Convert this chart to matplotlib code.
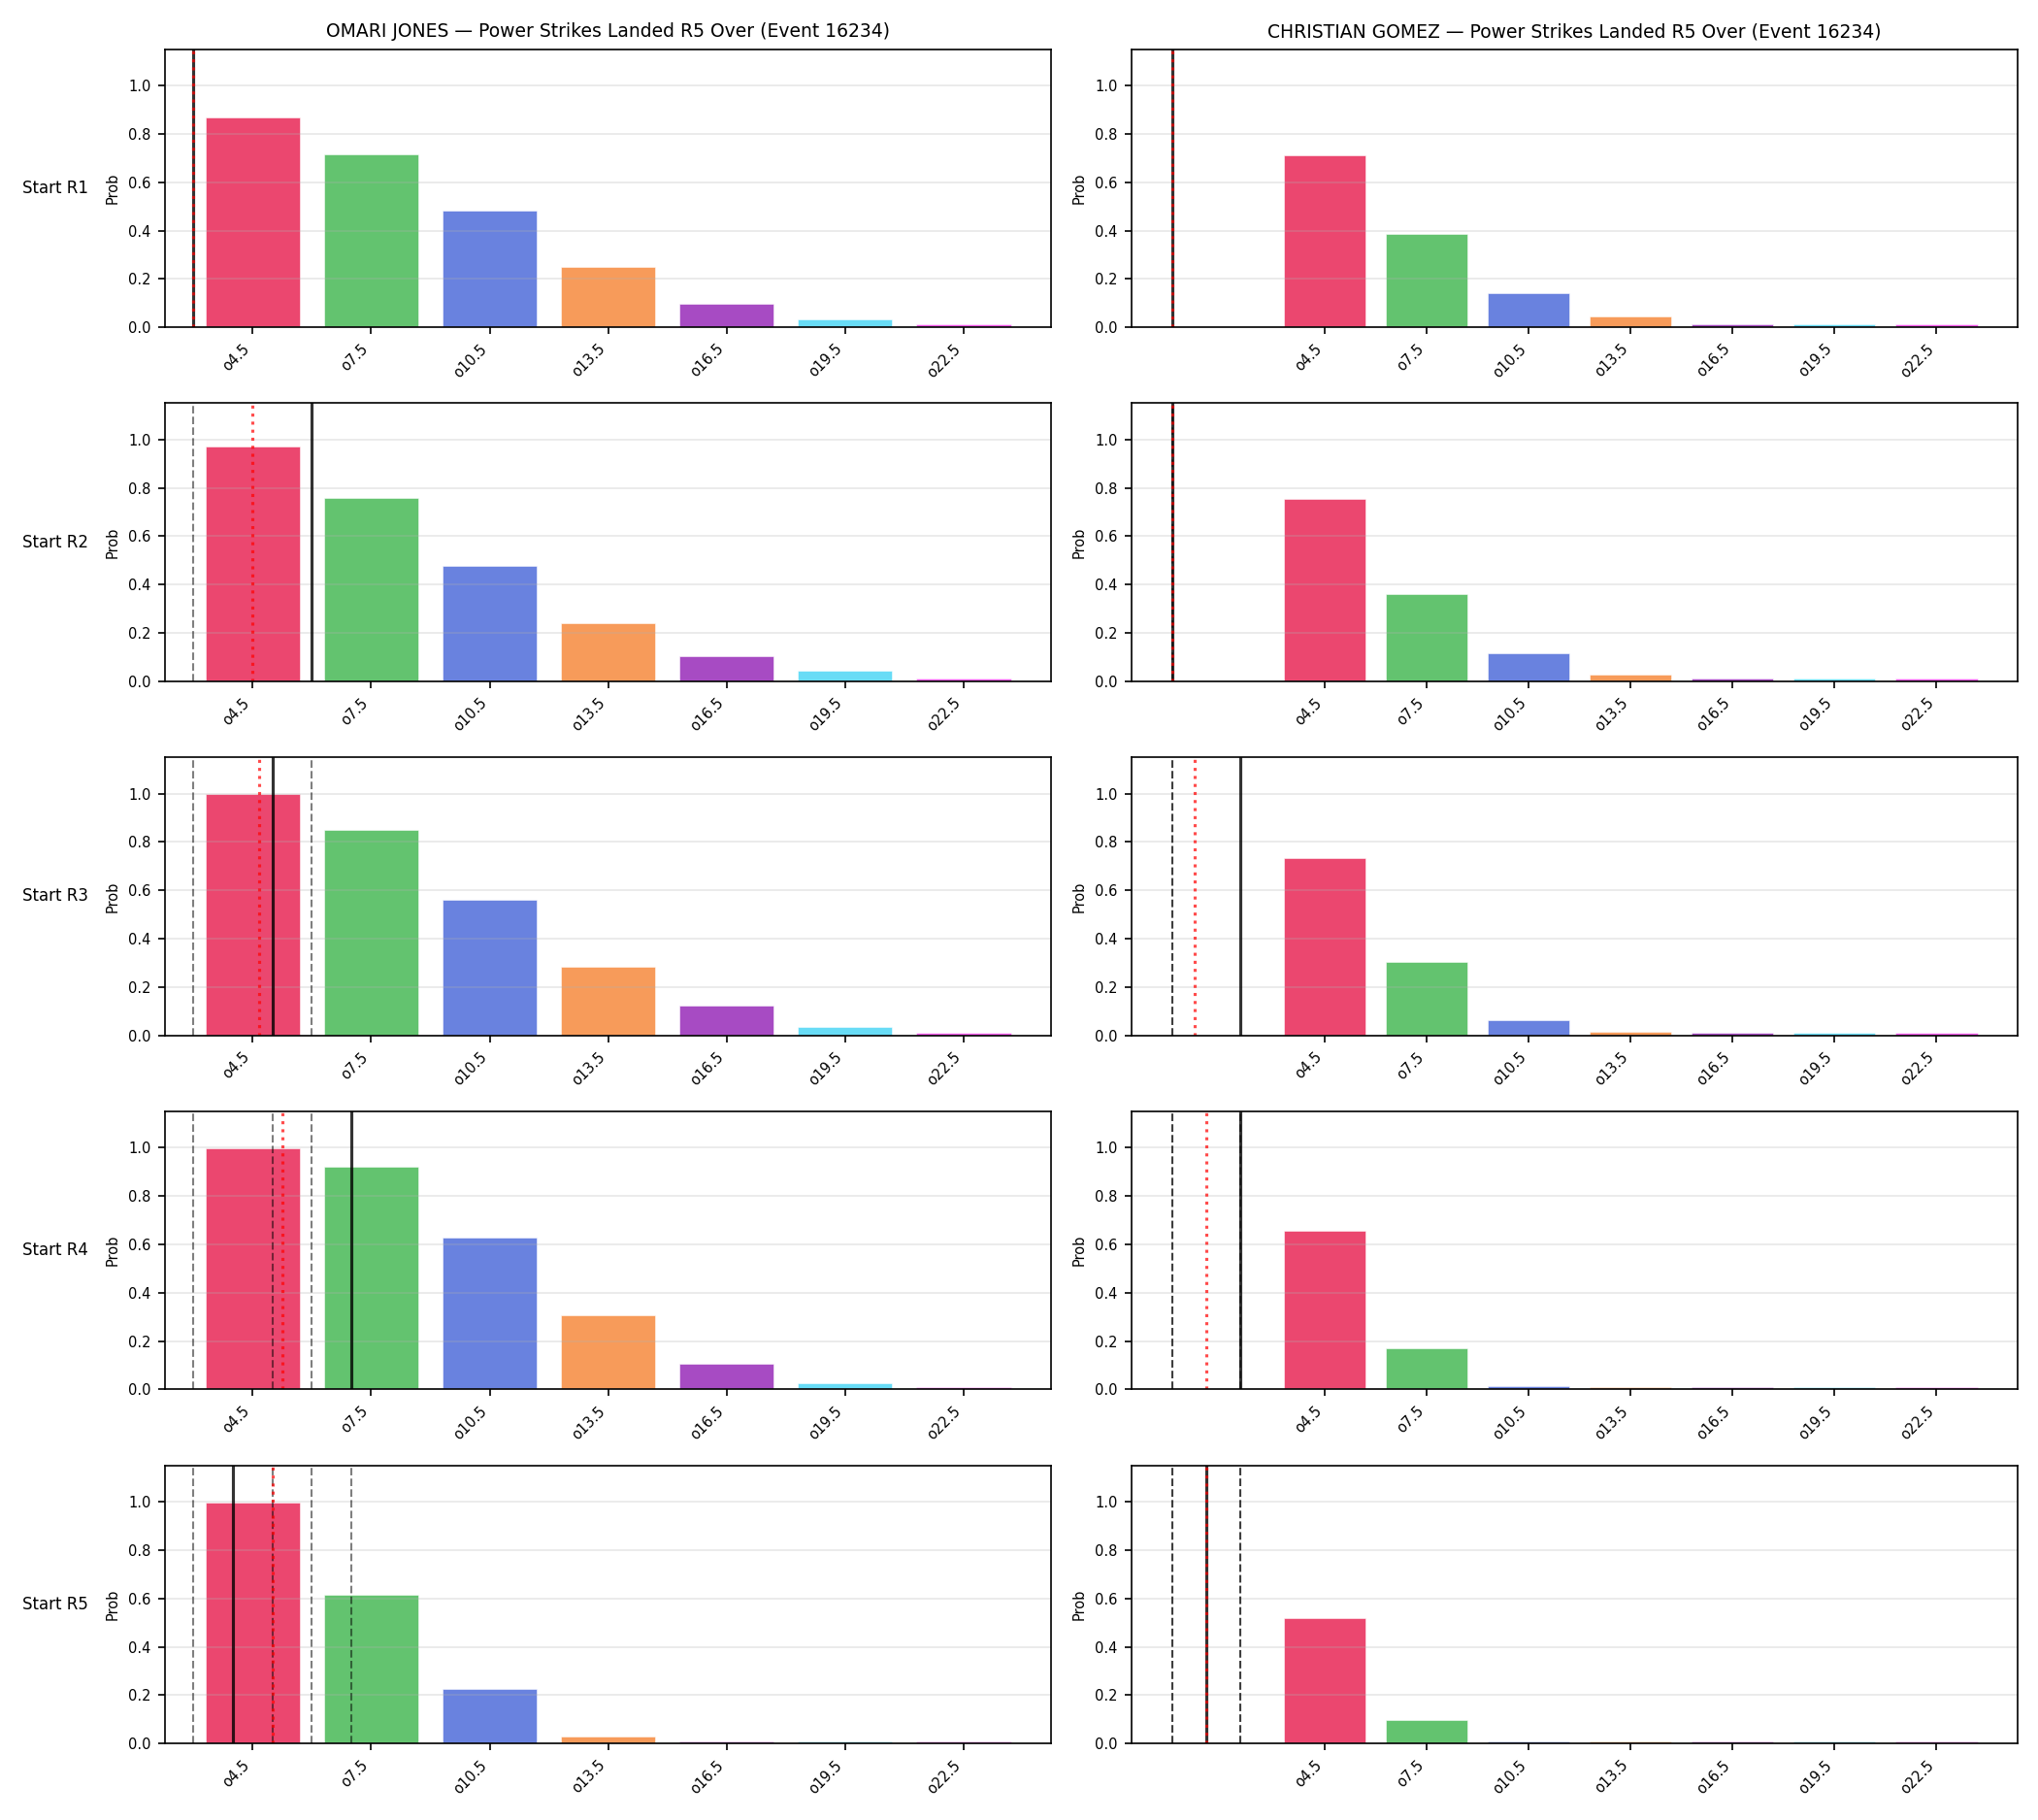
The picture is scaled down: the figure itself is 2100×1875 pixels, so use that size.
"""Power strikes landed R5 over: probability ladders by round start, two fighters."""

import numpy as np
import matplotlib
matplotlib.use("Agg")
import matplotlib.pyplot as plt

EVENT_ID = 16234
MARKET = "Power Strikes Landed R5 Over"

fighters = ["OMARI JONES", "CHRISTIAN GOMEZ"]
row_labels = ["Start R1", "Start R2", "Start R3", "Start R4", "Start R5"]

ladder = ["o4.5", "o7.5", "o10.5", "o13.5", "o16.5", "o19.5", "o22.5"]
ladder_lines = [4.5, 7.5, 10.5, 13.5, 16.5, 19.5, 22.5]
bar_colors = ["#e6194b", "#3cb44b", "#4363d8", "#f58231", "#911eb4", "#42d4f4", "#f032e6"]

omari_probs = [
    [0.869, 0.717, 0.484, 0.251, 0.099, 0.031, 0.012],
    [0.969, 0.760, 0.476, 0.239, 0.106, 0.042, 0.012],
    [0.998, 0.850, 0.559, 0.282, 0.122, 0.033, 0.012],
    [0.997, 0.922, 0.627, 0.307, 0.106, 0.024, 0.011],
    [0.998, 0.617, 0.226, 0.030, 0.011, 0.008, 0.011],
]
christian_probs = [
    [0.713, 0.384, 0.143, 0.043, 0.013, 0.011, 0.011],
    [0.753, 0.359, 0.118, 0.026, 0.012, 0.011, 0.011],
    [0.733, 0.303, 0.063, 0.014, 0.011, 0.010, 0.010],
    [0.655, 0.169, 0.015, 0.011, 0.011, 0.010, 0.010],
    [0.519, 0.098, 0.011, 0.010, 0.010, 0.010, 0.010],
]

# power strikes landed per round (history used for the reference lines)
omari_rounds = [3, 6, 5, 7, 4]
christian_rounds = [0, 0, 2, 2, 1]


def _to_x(count):
    """Map a strike count onto the ladder's category axis."""
    step = ladder_lines[1] - ladder_lines[0]
    return (count - ladder_lines[0]) / step


def draw_panel(ax, probs, history):
    x = np.arange(len(ladder))
    ax.bar(x, probs, width=0.8, color=bar_colors, alpha=0.8,
           edgecolor="white", linewidth=0.3)
    ax.set_xticks(x)
    ax.set_xticklabels(ladder, rotation=45, ha="right", fontsize=7)
    ax.set_ylim(0, 1.15)

    for c in history[:-1]:
        ax.axvline(_to_x(c), color="k", linestyle="--", linewidth=1.0, alpha=0.5)
    ax.axvline(_to_x(history[-1]), color="k", linewidth=1.5, alpha=0.8)
    ax.axvline(_to_x(np.mean(history)), color="red", linestyle=":",
               linewidth=1.5, alpha=0.7)

    ax.set_ylabel("Prob", fontsize=7)
    ax.tick_params(axis="y", labelsize=7)
    ax.grid(True, axis="y", alpha=0.3)


fig, axes = plt.subplots(5, 2, figsize=(14, 12.5))
fig.subplots_adjust(left=0.081, right=0.990, top=0.973, bottom=0.042,
                    wspace=0.091, hspace=0.273)

all_probs = [omari_probs, christian_probs]
all_rounds = [omari_rounds, christian_rounds]

for r in range(len(row_labels)):
    for c in range(len(fighters)):
        ax = axes[r, c]
        draw_panel(ax, all_probs[c][r], all_rounds[c][:r + 1])
        if r == 0:
            ax.set_title(f"{fighters[c]} \u2014 {MARKET} (Event {EVENT_ID})", fontsize=9)
    axes[r, 0].text(-0.161, 0.5, row_labels[r], transform=axes[r, 0].transAxes,
                    ha="left", va="center", fontsize=8)

plt.savefig("out.png", dpi=150)
plt.close(fig)
